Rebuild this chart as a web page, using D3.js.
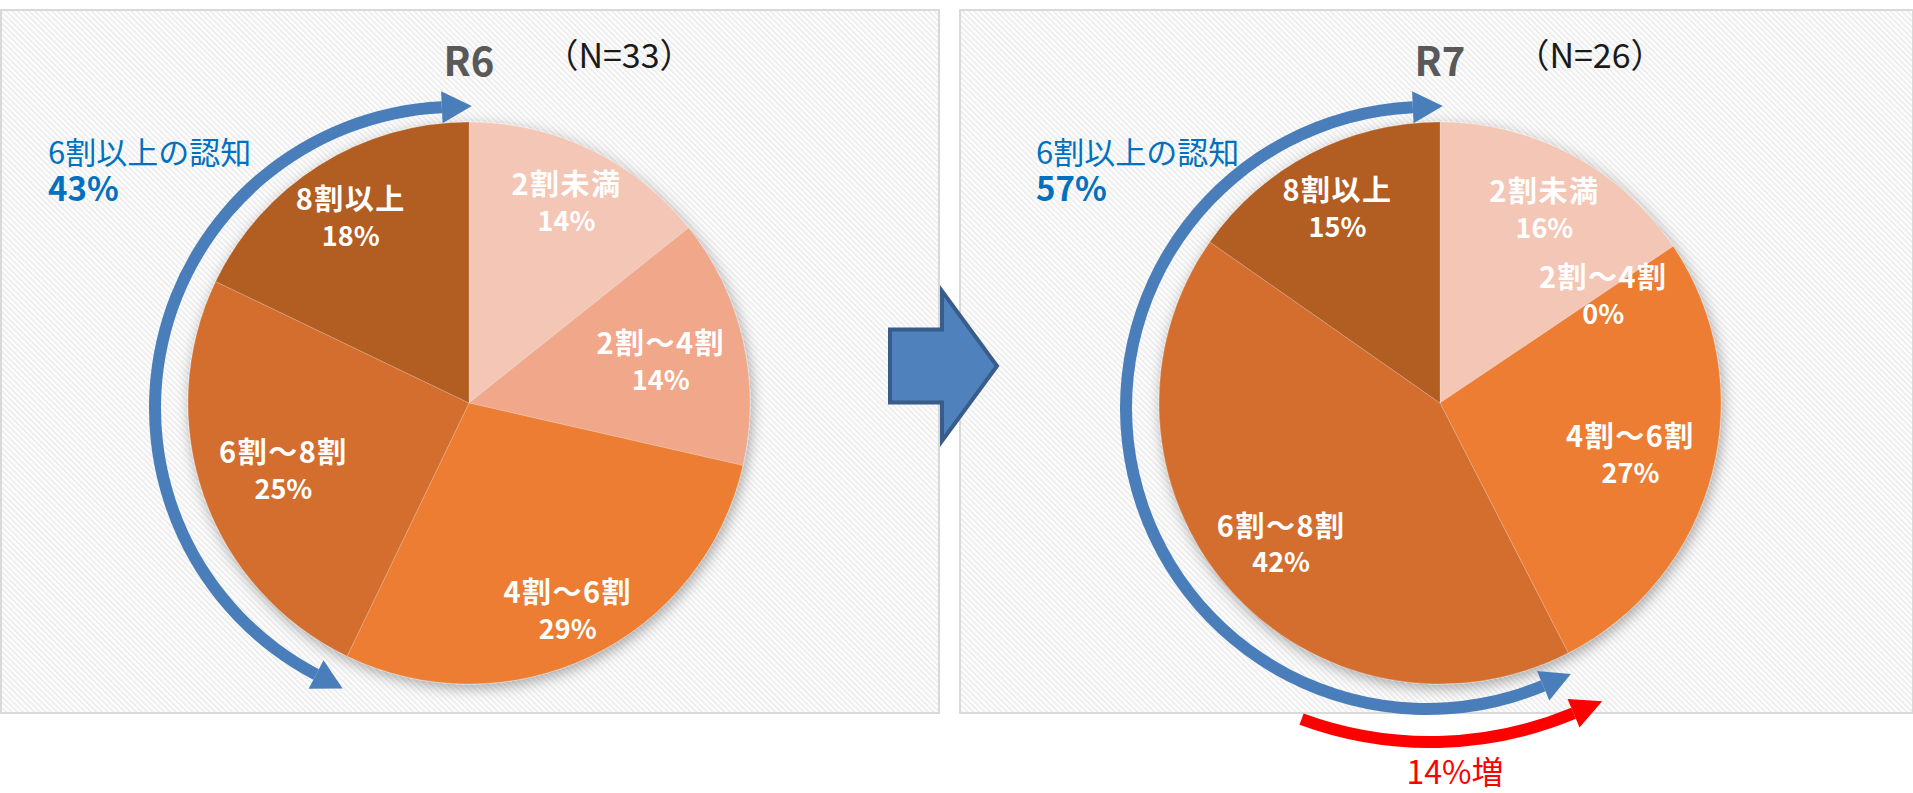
<!DOCTYPE html>
<html>
<head>
<meta charset="utf-8">
<script src="https://cdn.jsdelivr.net/npm/d3@7"></script>
<style>
  body { margin: 0; background: #fff; }
  svg { display: block; }
  text { font-family: "Noto Sans CJK JP", "Noto Sans", sans-serif; }
</style>
</head>
<body>
<svg id="chart" width="1913" height="793"></svg>
<script>
// datos
const categorias = ["2割未満", "2割～4割", "4割～6割", "6割～8割", "8割以上"];
const valoresR6 = [14.3, 14.3, 28.6, 25.0, 17.9];
const valoresR7 = [15.6, 0, 26.9, 42.3, 15.3];
const periodos = ["R6", "R7"];
const muestras = [33, 26];
const seisWariIjo = [43, 57];   // 6割以上の認知 (%)
const colores = ["#F4C6B6", "#F0A78A", "#EC7D32", "#D36E2D", "#B25D23"];

const svg = d3.select("#chart");
const defs = svg.append("defs");

// fondo rayado de los paneles
const pat = defs.append("pattern")
    .attr("id", "rayas")
    .attr("width", 4).attr("height", 4)
    .attr("patternUnits", "userSpaceOnUse")
    .attr("patternTransform", "rotate(-45)");
pat.append("rect").attr("width", 4).attr("height", 4).attr("fill", "#fdfdfd");
pat.append("rect").attr("width", 1.6).attr("height", 4).attr("fill", "#ebebeb");

const filtro = defs.append("filter").attr("id", "sombra")
    .attr("x", "-20%").attr("y", "-20%").attr("width", "140%").attr("height", "140%");
filtro.append("feDropShadow")
    .attr("dx", 2).attr("dy", 4).attr("stdDeviation", 7)
    .attr("flood-color", "#000").attr("flood-opacity", 0.33);

const paneles = [
    { x: 1, y: 10, w: 938, h: 703 },
    { x: 960, y: 10, w: 953, h: 703 }
];
paneles.forEach(p => {
    svg.append("rect")
        .attr("x", p.x).attr("y", p.y)
        .attr("width", p.w).attr("height", p.h)
        .attr("fill", "url(#rayas)")
        .attr("stroke", "#d9d9d9")
        .attr("stroke-width", 2);
});

// flecha central
const fc = { x0: 890, x1: 997, cy: 366, cuerpo: 73, cabeza: 150, largo: 55 };
const xc = fc.x1 - fc.largo;
svg.append("path")
    .attr("d", `M${fc.x0},${fc.cy - fc.cuerpo / 2} L${xc},${fc.cy - fc.cuerpo / 2} L${xc},${fc.cy - fc.cabeza / 2}
                L${fc.x1},${fc.cy} L${xc},${fc.cy + fc.cabeza / 2} L${xc},${fc.cy + fc.cuerpo / 2}
                L${fc.x0},${fc.cy + fc.cuerpo / 2} Z`)
    .attr("fill", "#4F81BD")
    .attr("stroke", "#385D8A")
    .attr("stroke-width", 4)
    .attr("stroke-linejoin", "miter");

const radio = 281;
const grado = Math.PI / 180;
const pie = d3.pie().sort(null).value(d => d.value);
const arc = d3.arc().innerRadius(0).outerRadius(radio);

// punta de flecha sobre un círculo (dir +1 sentido horario)
function punta(g, R, theta, dir, largo, ancho, color) {
    const bx = R * Math.sin(theta), by = -R * Math.cos(theta);
    const tx = Math.cos(theta) * dir, ty = Math.sin(theta) * dir;
    const rx = Math.sin(theta), ry = -Math.cos(theta);
    const pts = [
        [bx + rx * ancho / 2, by + ry * ancho / 2],
        [bx + tx * largo, by + ty * largo],
        [bx - rx * ancho / 2, by - ry * ancho / 2]
    ];
    g.append("path").attr("d", d3.line()(pts) + "Z").attr("fill", color);
}

function arcoFlecha(g, R, desde, hasta, grosor, color) {
    g.append("path")
        .attr("d", d3.arc()
            .innerRadius(R - grosor / 2).outerRadius(R + grosor / 2)
            .startAngle(desde).endAngle(hasta)())
        .attr("fill", color);
}

const graficos = [
    { valores: valoresR6, cx: 469, cy: 403, textoX: 48, k: [0.80, 0.70, 0.81, 0.70, 0.79], aumento: false },
    { valores: valoresR7, cx: 1440, cy: 403, textoX: 1036, k: [0.79, 0.70, 0.70, 0.75, 0.79], aumento: true }
];

function dibujarPie(cfg, i) {
    const data = categorias.map((c, j) => ({ label: c, value: cfg.valores[j] }));
    const g = svg.append("g").attr("transform", `translate(${cfg.cx},${cfg.cy})`);

    g.append("g").attr("filter", "url(#sombra)")
        .selectAll("path")
        .data(pie(data))
        .join("path")
        .attr("d", arc)
        .attr("fill", (d, j) => colores[j])
        .attr("stroke", d => d.data.value > 0 ? "rgba(255,255,255,0.2)" : "none")
        .attr("stroke-width", 1);

    pie(data).forEach((d, j) => {
        const a = (d.startAngle + d.endAngle) / 2;
        const r = radio * cfg.k[j];
        const x = r * Math.sin(a), y = -r * Math.cos(a);
        g.append("text")
            .attr("x", x).attr("y", y - 18)
            .attr("text-anchor", "middle")
            .attr("dominant-baseline", "central")
            .style("font-size", "29px").style("font-weight", "bold")
            .style("letter-spacing", "1.5px")
            .attr("fill", "#fff")
            .text(d.data.label);
        g.append("text")
            .attr("x", x).attr("y", y + 19)
            .attr("text-anchor", "middle")
            .attr("dominant-baseline", "central")
            .style("font-size", "27px").style("font-weight", "bold")
            .attr("fill", "#fff")
            .text(Math.round(d.data.value) + "%");
    });

    // flecha azul 6割以上
    const ga = svg.append("g").attr("transform", `translate(${cfg.cx - 13},${cfg.cy + 5})`);
    const R = 301;
    const desde = 2 * Math.PI * (1 - seisWariIjo[i] / 100) + 2.5 * grado;
    const hasta = 2 * Math.PI - 2.7 * grado;
    arcoFlecha(ga, R, desde, hasta, 12, "#4A7EBB");
    punta(ga, R, hasta, 1, 30, 32, "#4A7EBB");
    punta(ga, R, desde, -1, 30, 32, "#4A7EBB");

    if (cfg.aumento) {
        const gr = svg.append("g").attr("transform", `translate(${cfg.cx - 10},${cfg.cy - 33})`);
        const R2 = 372;
        const ini = 2 * Math.PI * (1 - seisWariIjo[i - 1] / 100) - 5 * grado;
        const fin = 2 * Math.PI * (1 - seisWariIjo[i] / 100) + 2.5 * grado;
        arcoFlecha(gr, R2, fin, ini, 12, "#FF0000");
        punta(gr, R2, fin, -1, 31, 31, "#FF0000");

        svg.append("text")
            .attr("x", cfg.cx + 15).attr("y", cfg.cy + 381)
            .attr("text-anchor", "middle")
            .style("font-size", "32px")
            .attr("fill", "#FF0000")
            .text((seisWariIjo[i] - seisWariIjo[i - 1]) + "%増");
    }

    // títulos
    svg.append("text")
        .attr("x", cfg.cx).attr("y", 76)
        .attr("text-anchor", "middle")
        .style("font-size", "40px").style("font-weight", "bold")
        .attr("fill", "#595959")
        .text(periodos[i]);

    svg.append("text")
        .attr("x", cfg.cx + 150).attr("y", 68)
        .attr("text-anchor", "middle")
        .style("font-size", "34px")
        .attr("fill", "#1a1a1a")
        .text(`（N=${muestras[i]}）`);

    const nota = svg.append("text")
        .attr("x", cfg.textoX).attr("y", 164)
        .attr("fill", "#0070C0");
    nota.append("tspan")
        .style("font-size", "31px")
        .text("6割以上の認知");
    nota.append("tspan")
        .attr("x", cfg.textoX).attr("dy", 37)
        .style("font-size", "33px").style("font-weight", "bold")
        .text(seisWariIjo[i] + "%");
}

graficos.forEach((cfg, i) => dibujarPie(cfg, i));
</script>
</body>
</html>
